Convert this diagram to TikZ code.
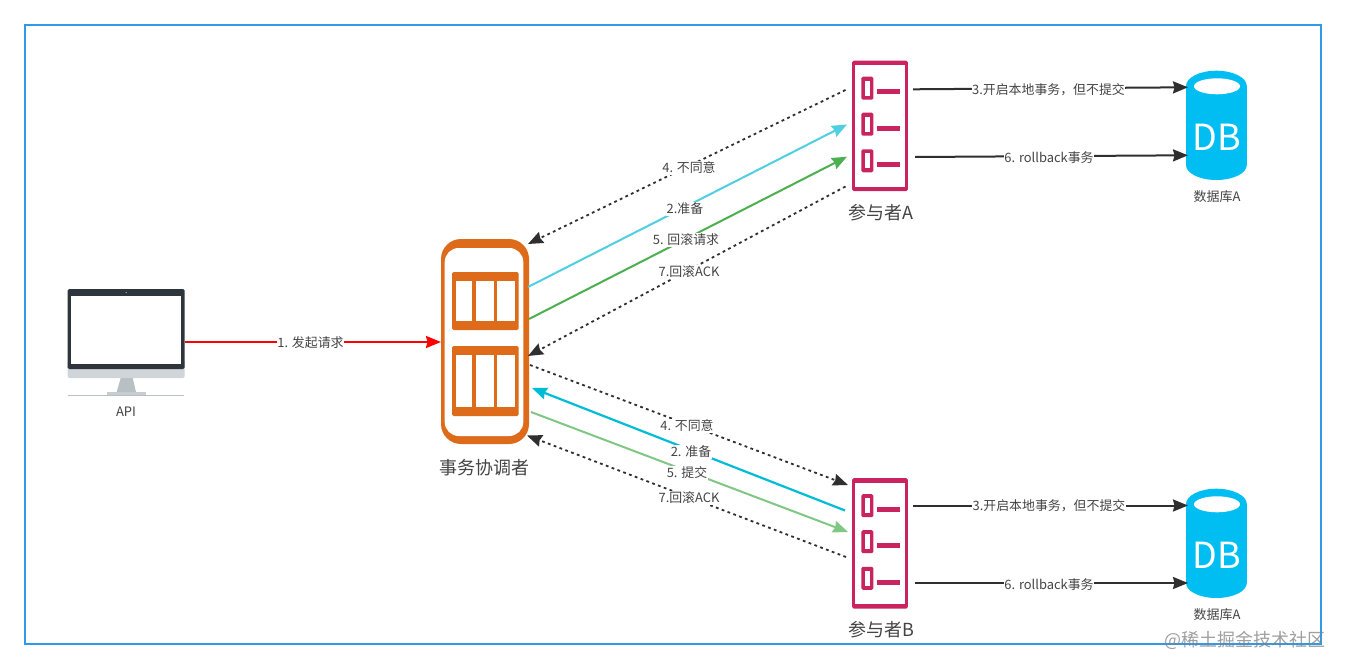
\documentclass[tikz,border=0pt]{standalone}
\usepackage{fontspec}
\setmainfont{Noto Sans CJK SC}
\usetikzlibrary{arrows.meta}
\definecolor{frameblue}{HTML}{2E9BEA}
\definecolor{orangec}{HTML}{DD6B1A}
\definecolor{pinkc}{HTML}{C9245F}
\definecolor{dbblue}{HTML}{00BEF2}
\definecolor{darkc}{HTML}{2F2F2F}
\definecolor{textc}{HTML}{444444}
\definecolor{monitorc}{HTML}{2F353C}
\definecolor{chinc}{HTML}{D0D5DA}
\definecolor{standc}{HTML}{B9C0C3}
\tikzset{
  lbl/.style={fill=white,inner sep=0.6pt,text=textc,font=\fontsize{12.9}{15}\selectfont},
  cap13/.style={inner sep=0pt,text=textc,font=\fontsize{13}{15}\selectfont},
  cap18/.style={inner sep=0pt,text=textc,font=\fontsize{18}{21}\selectfont},
  solidarrow/.style={line width=#1,-{Stealth[length=15pt,width=12pt,inset=1.5pt]}},
  solidarrow/.default=2pt,
  dotarrow/.style={darkc,line width=1.8pt,dash pattern=on 2.8pt off 3.4pt,-{Stealth[length=15pt,width=12pt,inset=1.5pt,sep=0pt]}},
}
\newcommand{\participantIcon}[2]{%
  \begin{scope}[shift={(0,#1)}]
    \node[fill=pinkc,rounded corners=1.5pt,inner sep=0pt,minimum width=55.6pt,minimum height=130.4pt] (#2) at (880,125.9) {};
    \fill[white] (855,65.5) rectangle (905.2,186.8);
    \foreach \yy/\ll in {76.7/91.7,112.7/128.3,149.3/164.7}{
      \fill[pinkc,rounded corners=1.5pt] (861.3,\yy) rectangle ++(12,23);
      \fill[white] (864.6,\yy+4) rectangle ++(5.6,15);
      \fill[pinkc] (877.3,\ll-2.5) rectangle (900,\ll+2.5);
    }
  \end{scope}}
\newcommand{\dbIcon}[2]{%
  \begin{scope}[shift={(0,#1)}]
    \fill[dbblue] (1216.4,86) ellipse [x radius=30.4,y radius=15.3];
    \fill[dbblue] (1186,86) rectangle (1246.8,165);
    \fill[dbblue] (1216.4,165) ellipse [x radius=30.4,y radius=15];
    \fill[white] (1217,86.3) ellipse [x radius=23,y radius=8];
    \node[inner sep=0pt,text=white,font=\fontsize{36}{40}\selectfont] (#2) at (1217,137) {DB};
  \end{scope}}
\begin{document}
\begin{tikzpicture}[x=1pt,y=-1pt]
\useasboundingbox (0,0) rectangle (1345,669);
\fill[white] (0,0) rectangle (1345,669);
\draw[frameblue,line width=2pt] (25,25) rectangle (1321,644);

% API monitor
\fill[standc] (120.7,378) -- (132.7,378) -- (136,392) -- (116.7,392) -- cycle;
\fill[standc!80!white] (106.7,392) rectangle (146,395);
\draw[standc,line width=0.8pt] (68,395.3) -- (184,395.3);
\fill[chinc,rounded corners=2pt] (67.7,360) rectangle (184.7,378);
\node[fill=monitorc,rounded corners=1.5pt,inner sep=0pt,minimum width=117pt,minimum height=80pt] (api) at (126.2,329) {};
\fill[white] (71.3,296.3) rectangle (180.7,364.3);
\fill[white!70!black] (126.2,292.5) circle (0.7);
\node[cap13] (apilabel) at (126,412) {API};

% Coordinator
\node[fill=orangec,rounded corners=20pt,inner sep=0pt,minimum width=88pt,minimum height=205pt] (coord) at (485,341.5) {};
\node[fill=white,rounded corners=14pt,inner sep=0pt,minimum width=78.6pt,minimum height=188pt] (coordinner) at (484,342) {};
\fill[orangec,rounded corners=1.5pt] (452,272) rectangle (518.5,330);
\fill[orangec,rounded corners=1.5pt] (452,346) rectangle (518.5,416);
\foreach \xa/\xb in {455.7/472.3,476/493.7,497/515}{
  \fill[white] (\xa,280.7) rectangle (\xb,321);
  \fill[white] (\xa,355) rectangle (\xb,407.3);
}
\node[cap18] (coordlabel) at (484.5,468) {事务协调者};

% Participants
\participantIcon{0}{partA}
\participantIcon{417.5}{partB}
\node[cap18] (partAlabel) at (881,213) {参与者A};
\node[cap18] (partBlabel) at (881,630) {参与者B};

% Databases
\dbIcon{0}{dbA}
\dbIcon{418}{dbB}
\node[cap13] (dbAlabel) at (1217,197) {数据库A};
\node[cap13] (dbBlabel) at (1217,615) {数据库A};

% Connector ends
\coordinate (apiE) at (185,342);
\coordinate (coordW) at (441,342);
\coordinate (a4s) at (845.5,90);    \coordinate (a4e) at (528,244);
\coordinate (a2s) at (528,287);     \coordinate (a2e) at (847,124.5);
\coordinate (a5s) at (529,319);     \coordinate (a5e) at (847,156.7);
\coordinate (a7s) at (845.5,186.5); \coordinate (a7e) at (528,356);
\coordinate (b4s) at (530,365);     \coordinate (b4e) at (848,485);
\coordinate (b2s) at (845,510.5);   \coordinate (b2e) at (532,388);
\coordinate (b5s) at (531,412);     \coordinate (b5e) at (848,532);
\coordinate (b7s) at (846,557);     \coordinate (b7e) at (527,435.5);
\coordinate (a3s) at (913,89.3);    \coordinate (a3e) at (1188,87.3);
\coordinate (a6s) at (915,157);     \coordinate (a6e) at (1188,155.3);
\coordinate (c3s) at (913,505.5);   \coordinate (c3e) at (1188,505.5);
\coordinate (c6s) at (915,583);     \coordinate (c6e) at (1188,583);

% Connectors
\draw[solidarrow=2.2pt,red] (apiE) -- (coordW);
\draw[dotarrow] (a4s) -- (a4e);
\draw[solidarrow,color={rgb,255:red,79;green,207;blue,224}] (a2s) -- (a2e);
\draw[solidarrow,color={rgb,255:red,76;green,175;blue,80}] (a5s) -- (a5e);
\draw[dotarrow] (a7s) -- (a7e);
\draw[dotarrow] (b4s) -- (b4e);
\draw[solidarrow=2.2pt,color={rgb,255:red,0;green,188;blue,212}] (b2s) -- (b2e);
\draw[solidarrow,color={rgb,255:red,129;green,199;blue,132}] (b5s) -- (b5e);
\draw[dotarrow] (b7s) -- (b7e);
\draw[solidarrow,darkc] (a3s) -- (a3e);
\draw[solidarrow,darkc] (a6s) -- (a6e);
\draw[solidarrow,darkc] (c3s) -- (c3e);
\draw[solidarrow,darkc] (c6s) -- (c6e);

% Labels
\node[lbl] (l1) at (310.5,343) {1. 发起请求};
\node[lbl] (la4) at (689,168) {4. 不同意};
\node[lbl] (la2) at (685,209) {2.准备};
\node[lbl] (la5) at (686,240) {5. 回滚请求};
\node[lbl] (la7) at (689,272) {7.回滚ACK};
\node[lbl] (lb4) at (687,426) {4. 不同意};
\node[lbl] (lb2) at (691,452) {2. 准备};
\node[lbl] (lb5) at (687,473) {5. 提交};
\node[lbl] (lb7) at (689,498) {7.回滚ACK};
\node[lbl] (la3) at (1048.5,90) {3.开启本地事务，但不提交};
\node[lbl] (la6) at (1049,158) {6. rollback事务};
\node[lbl] (lc3) at (1049,506) {3.开启本地事务，但不提交};
\node[lbl] (lc6) at (1049,585) {6. rollback事务};

% Watermark
\node[inner sep=0pt,text=gray,opacity=0.75,font=\fontsize{18}{22}\selectfont] (wm) at (1245,640) {@稀土掘金技术社区};
\end{tikzpicture}
\end{document}
